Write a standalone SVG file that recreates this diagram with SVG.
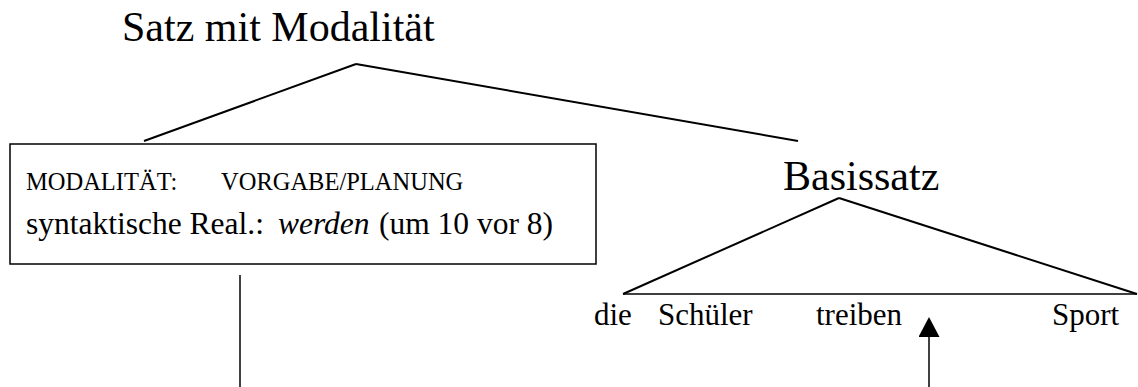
<svg xmlns="http://www.w3.org/2000/svg" width="1138" height="387" viewBox="0 0 1138 387">
  <style>
    .t { font-family: "Liberation Serif", "Times New Roman", serif; fill: #000; }
    .big { font-size: 42px; }
    .mid { font-size: 31px; }
    .boxl { font-size: 31.5px; }
    .small { font-size: 24.5px; }
    .it { font-style: italic; }
    .tree { stroke: #000; stroke-width: 2; fill: none; }
    .thin { stroke: #000; stroke-width: 1.5; fill: none; }
  </style>
  <defs>
    <marker id="arrow" markerUnits="userSpaceOnUse" markerWidth="20" markerHeight="21" viewBox="0 0 20 21" refX="7" refY="10.5" orient="auto">
      <path d="M0,0 L20,10.5 L0,21 z" fill="#000"/>
    </marker>
  </defs>
  <rect width="1138" height="387" fill="#fff"/>

  <g id="satz-mit-modalitaet">
    <text class="t big" x="122" y="41">Satz mit Modalität</text>
  </g>

  <g id="modalitaet-box">
    <rect x="10" y="144" width="586" height="120" fill="#fff" stroke="#000" stroke-width="1.5"/>
    <text class="t small" x="26" y="190">MODALITÄT:</text>
    <text class="t small" x="221" y="190">VORGABE/PLANUNG</text>
    <text class="t boxl" x="26" y="234">syntaktische Real.:</text>
    <text class="t boxl it" x="278" y="234">werden</text>
    <text class="t boxl" x="379" y="234">(um 10 vor 8)</text>
  </g>

  <g id="basissatz">
    <text class="t big" x="783" y="190">Basissatz</text>
  </g>

  <g id="words">
    <text class="t mid" x="594" y="325">die</text>
    <text class="t mid" x="658" y="325">Schüler</text>
    <text class="t mid" x="816" y="325">treiben</text>
    <text class="t mid" x="1052" y="325">Sport</text>
  </g>

  <g id="connectors">
    <line class="tree" x1="356" y1="64" x2="144" y2="141"/>
    <line class="tree" x1="356" y1="64" x2="798" y2="141"/>
    <line class="tree" x1="839" y1="198" x2="623" y2="294"/>
    <line class="tree" x1="839" y1="198" x2="1137" y2="294"/>
    <line class="thin" x1="623" y1="294" x2="1137" y2="294"/>
    <line class="thin" x1="240" y1="275" x2="240" y2="387"/>
    <line class="thin" x1="929" y1="387" x2="929" y2="330" marker-end="url(#arrow)"/>
  </g>
</svg>
